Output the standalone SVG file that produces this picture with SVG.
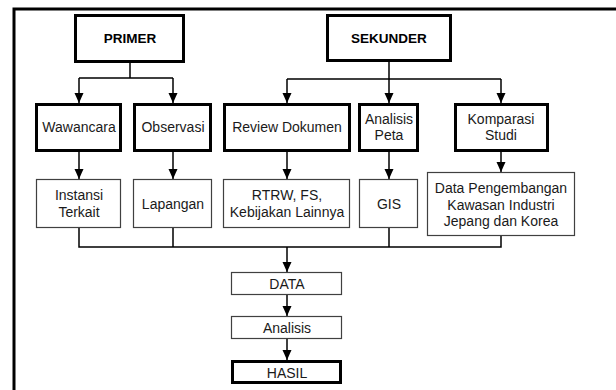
<svg xmlns="http://www.w3.org/2000/svg" width="616" height="390" viewBox="0 0 616 390">
<style>
.thick{fill:#fff;stroke:#000;stroke-width:3}
.thin{fill:#fff;stroke:#404040;stroke-width:1.2}
text{font-family:"Liberation Sans",Arial,sans-serif;font-size:14px;fill:#1a1a1a;text-anchor:middle}
.b{font-weight:bold;font-size:13.5px;fill:#000}
.c{fill:none;stroke:#000;stroke-width:1.5}
</style>
<defs>
<marker id="ah" markerUnits="userSpaceOnUse" markerWidth="10" markerHeight="10" viewBox="0 0 10 10" refX="10" refY="5" orient="auto">
<path d="M0,0.5 L10,5 L0,9.5 Z" fill="#000"/>
</marker>
</defs>
<rect width="616" height="390" fill="#fff"/>
<path d="M14,390 V9 H616" fill="none" stroke="#000" stroke-width="3"/>
<g id="connectors">
<path class="c" d="M130,63 V78 M79,78 H173 M389,62 V79 M287,79 H501 M79,228 V247 H501 V236 M173,228 V247 M389,228 V247"/>
<path class="c" d="M79,78 V103" marker-end="url(#ah)"/>
<path class="c" d="M173,78 V103" marker-end="url(#ah)"/>
<path class="c" d="M287,79 V103" marker-end="url(#ah)"/>
<path class="c" d="M389,79 V103" marker-end="url(#ah)"/>
<path class="c" d="M501,79 V103" marker-end="url(#ah)"/>
<path class="c" d="M79,152 V179" marker-end="url(#ah)"/>
<path class="c" d="M173,152 V179" marker-end="url(#ah)"/>
<path class="c" d="M287,152 V179" marker-end="url(#ah)"/>
<path class="c" d="M389,152 V179" marker-end="url(#ah)"/>
<path class="c" d="M501,152 V172" marker-end="url(#ah)"/>
<path class="c" d="M287,247 V272" marker-end="url(#ah)"/>
<path class="c" d="M287,295 V316" marker-end="url(#ah)"/>
<path class="c" d="M287,339 V360" marker-end="url(#ah)"/>
</g>
<g id="primer"><rect class="thick" x="75.5" y="15.5" width="108" height="46"/><text class="b" x="130" y="43">PRIMER</text></g>
<g id="sekunder"><rect class="thick" x="327.5" y="15.5" width="123" height="45"/><text class="b" x="389" y="43">SEKUNDER</text></g>
<g id="wawancara"><rect class="thick" x="36.5" y="104.5" width="84" height="46"/><text x="79" y="132">Wawancara</text></g>
<g id="observasi"><rect class="thick" x="134.5" y="104.5" width="76" height="46"/><text x="173" y="132">Observasi</text></g>
<g id="review"><rect class="thick" x="224.5" y="104.5" width="125" height="46"/><text x="287" y="132">Review Dokumen</text></g>
<g id="analisis-peta"><rect class="thick" x="359.5" y="104.5" width="58" height="46"/><text x="389" y="124">Analisis</text><text x="389" y="140">Peta</text></g>
<g id="komparasi"><rect class="thick" x="455.5" y="104.5" width="92" height="46"/><text x="501" y="124">Komparasi</text><text x="501" y="140">Studi</text></g>
<g id="instansi"><rect class="thin" x="36.5" y="179.5" width="84" height="48"/><text x="79" y="200">Instansi</text><text x="79" y="217">Terkait</text></g>
<g id="lapangan"><rect class="thin" x="133.5" y="179.5" width="78" height="48"/><text x="173" y="209">Lapangan</text></g>
<g id="rtrw"><rect class="thin" x="223.5" y="179.5" width="126" height="48"/><text x="287" y="200">RTRW, FS,</text><text x="287" y="217">Kebijakan Lainnya</text></g>
<g id="gis"><rect class="thin" x="359.5" y="179.5" width="58" height="48"/><text x="389" y="209">GIS</text></g>
<g id="data-pengembangan"><rect class="thin" x="427.5" y="172.5" width="147" height="63"/><text x="501" y="193">Data Pengembangan</text><text x="501" y="210">Kawasan Industri</text><text x="501" y="226">Jepang dan Korea</text></g>
<g id="data"><rect class="thin" x="231.5" y="272.5" width="110" height="22"/><text x="287" y="289">DATA</text></g>
<g id="analisis"><rect class="thin" x="231.5" y="316.5" width="110" height="22"/><text x="287" y="333">Analisis</text></g>
<g id="hasil"><rect class="thick" x="232.5" y="361.5" width="108" height="21"/><text x="287" y="378">HASIL</text></g>
</svg>
